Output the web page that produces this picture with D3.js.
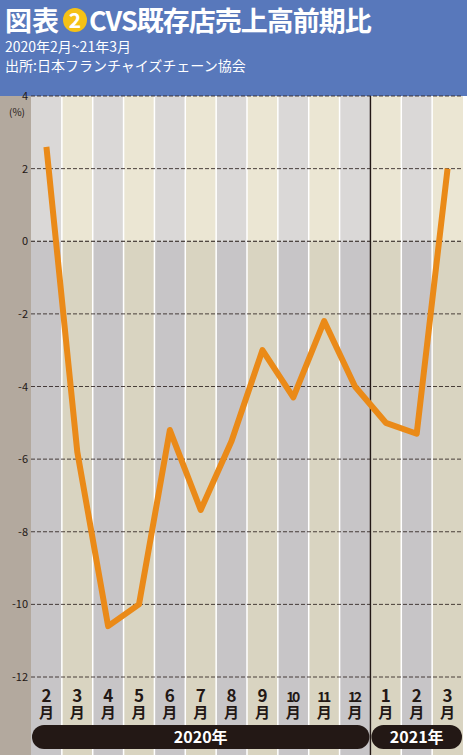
<!DOCTYPE html>
<html><head><meta charset="utf-8">
<script src="https://cdn.jsdelivr.net/npm/d3@7"></script>
<style>body{margin:0;background:#fff}svg{display:block;font-family:"Noto Sans CJK JP","Noto Sans",sans-serif}</style>
</head><body>
<script>
const months = ["2","3","4","5","6","7","8","9","10","11","12","1","2","3"];
const values = [2.6,-5.8,-10.6,-10.0,-5.2,-7.4,-5.5,-3.0,-4.3,-2.2,-4.0,-5.0,-5.3,2.0];
const yTicks = [4,2,0,-2,-4,-6,-8,-10,-12];
const years = [{label:"2020年", from:0, to:11},{label:"2021年", from:11, to:14}];

const W = 467, H = 755;
const plotLeft = 31, plotRight = 463, plotTop = 96, plotBottom = 677;
const svg = d3.select("body").append("svg").attr("width", W).attr("height", H);

// header
svg.append("rect").attr("width", W).attr("height", 96).attr("fill", "#5878bb");
svg.append("text").attr("x",5).attr("y",31).attr("fill","#fff").attr("font-size",27).attr("font-weight","bold").text("図表");
svg.append("circle").attr("cx",75).attr("cy",20).attr("r",12).attr("fill","#f5c116");
svg.append("text").attr("x",75).attr("y",28).attr("text-anchor","middle").attr("fill","#fff").attr("font-size",21).attr("font-weight","bold").text("2");
svg.append("text").attr("x",89).attr("y",31).attr("fill","#fff").attr("font-size",27).attr("font-weight","bold").attr("letter-spacing",-1).text("CVS既存店売上高前期比");
svg.append("text").attr("x",5).attr("y",52).attr("fill","#fff").attr("font-size",14).text("2020年2月~21年3月");
svg.append("text").attr("x",5).attr("y",71).attr("fill","#fff").attr("font-size",14).text("出所:日本フランチャイズチェーン協会");

// left strip
svg.append("rect").attr("x",0).attr("y",96).attr("width",plotLeft).attr("height",H-96).attr("fill","#b3a99e");

const x = d3.scaleBand().domain(d3.range(months.length)).range([plotLeft, plotRight]).padding(0);
const y = d3.scaleLinear().domain([-12, 4]).range([plotBottom, plotTop]);

// column backgrounds
const cols = svg.append("g");
months.forEach((m, i) => {
  const even = i % 2 === 0;
  cols.append("rect").attr("x", x(i)).attr("y", plotTop).attr("width", x.bandwidth()).attr("height", y(0)-plotTop)
    .attr("fill", even ? "#dad8d7" : "#ebe6d3");
  cols.append("rect").attr("x", x(i)).attr("y", y(0)).attr("width", x.bandwidth()).attr("height", H-y(0))
    .attr("fill", even ? "#c7c5c7" : "#d9d4c1");
  if (i > 0) cols.append("line").attr("x1", x(i)).attr("x2", x(i)).attr("y1", plotTop).attr("y2", H)
    .attr("stroke", "#fff").attr("stroke-width", 1.5);
});
svg.append("line").attr("x1", x(11)).attr("x2", x(11)).attr("y1", plotTop).attr("y2", H).attr("stroke", "#231815").attr("stroke-width", 1.5);

// grid + y labels
yTicks.forEach(t => {
  svg.append("line").attr("x1", plotLeft).attr("x2", plotRight).attr("y1", y(t)).attr("y2", y(t))
    .attr("stroke", "#231815").attr("stroke-width", t === 0 ? 1.2 : 0.8).attr("stroke-dasharray", "4,2");
  svg.append("text").attr("x", 28).attr("y", y(t) + 4).attr("text-anchor", "end").attr("font-size", 11)
    .attr("fill", "#231815").text(t);
});
svg.append("text").attr("x", 17).attr("y", 116).attr("text-anchor", "middle").attr("font-size", 10).attr("fill", "#231815").text("(%)");

// line
svg.append("path").datum(values)
  .attr("d", d3.line().x((d, i) => x(i) + x.bandwidth()/2).y(d => y(d)))
  .attr("fill", "none").attr("stroke", "#ea8a18").attr("stroke-width", 6).attr("stroke-linejoin", "round");

// month labels
months.forEach((m, i) => {
  const cx = x(i) + x.bandwidth()/2;
  svg.append("text").attr("x", cx).attr("y", 702).attr("text-anchor", "middle").attr("font-size", m.length > 1 ? 14 : 17)
    .attr("font-weight", "bold").attr("fill", "#231815").attr("textLength", m.length > 1 ? 14 : null).text(m);
  svg.append("text").attr("x", cx).attr("y", 718).attr("text-anchor", "middle").attr("font-size", 15)
    .attr("font-weight", "bold").attr("fill", "#231815").text("月");
});

// year bars
years.forEach(yr => {
  const x0 = x(yr.from) + 1, x1 = (yr.to < months.length ? x(yr.to) : plotRight) - 1;
  svg.append("rect").attr("x", x0).attr("y", 725).attr("width", x1 - x0).attr("height", 24).attr("rx", 12)
    .attr("fill", "#231815");
  svg.append("text").attr("x", (x0 + x1)/2).attr("y", 743).attr("text-anchor", "middle").attr("font-size", 16)
    .attr("font-weight", "bold").attr("fill", "#fff").text(yr.label);
});
</script>
</body></html>
